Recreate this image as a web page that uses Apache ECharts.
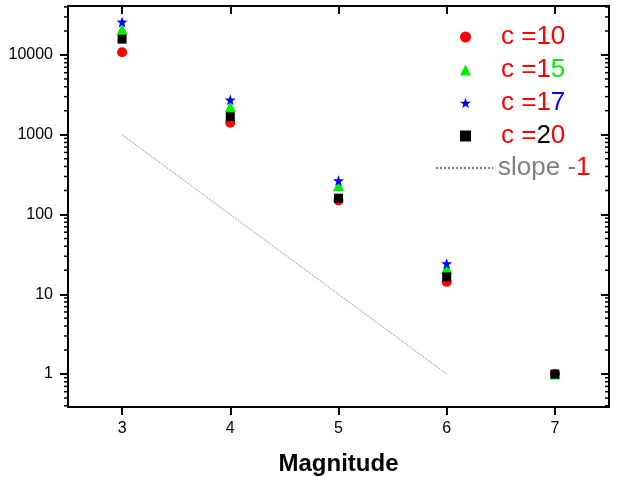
<!DOCTYPE html>
<html>
<head>
<meta charset="utf-8">
<script src="https://cdn.jsdelivr.net/npm/echarts@6/dist/echarts.min.js"></script>
<style>html,body{margin:0;padding:0;background:#fff;}#main{width:627px;height:477px;}</style>
</head>
<body>
<div id="main"></div>
<script>
var magnitudes = [3, 4, 5, 6, 7];
var c10 = [10800, 1410, 150, 14.3, 1];
var c15 = [21000, 2240, 230, 21, 1];
var c17 = [25900, 2740, 266, 24.2, 1];
var c20 = [15800, 1680, 160, 16.5, 1];
var slopeX = [3, 6];
var slopeY = [1000, 1];
var seriesNames = ['c =10', 'c =15', 'c =17', 'c =20'];
var slopeName = 'slope -1';
var minorTickValues = [0.4,0.5,0.6,0.7,0.8,0.9,2,3,4,5,6,7,8,9,20,30,40,50,60,70,80,90,200,300,400,500,600,700,800,900,2000,3000,4000,5000,6000,7000,8000,9000,20000,30000,40000];

function pairs(xs, ys) { return xs.map(function (x, i) { return [x, ys[i]]; }); }

var FONT = '"Liberation Sans", Arial, sans-serif';
var richStyles = {
  sp: { width: 25 },
  r: { color: '#ff0000', fontSize: 26, fontFamily: FONT, lineHeight: 26 },
  g: { color: '#00ee00', fontSize: 26, fontFamily: FONT, lineHeight: 26 },
  b: { color: '#0000ff', fontSize: 26, fontFamily: FONT, lineHeight: 26 },
  k: { color: '#000000', fontSize: 26, fontFamily: FONT, lineHeight: 26 },
  gr: { color: '#808080', fontSize: 26, fontFamily: FONT, lineHeight: 26 }
};
var legendLabels = {
  'c =10': '{sp|}{r|c =10}',
  'c =15': '{sp|}{r|c =1}{g|5}',
  'c =17': '{sp|}{r|c =1}{b|7}',
  'c =20': '{sp|}{r|c =}{k|2}{r|0}',
  'slope -1': '{gr|slope -}{r|1}'
};

var axisLineStyle = { show: true, onZero: false, lineStyle: { color: '#000', width: 2 } };
var xMin = 2.5, xMax = 7.5, yMin = 0.386, yMax = 41100;

var chart = echarts.init(document.getElementById('main'), null, { renderer: 'canvas' });
chart.setOption({
  backgroundColor: '#fff',
  animation: false,
  grid: { left: 68, right: 18, top: 6, bottom: 70, containLabel: false, outerBoundsMode: 'none' },
  xAxis: [
    {
      type: 'value', position: 'bottom', min: xMin, max: xMax,
      name: 'Magnitude', nameLocation: 'middle', nameGap: 45,
      nameTextStyle: { fontFamily: FONT, fontWeight: 'bold', fontSize: 24, color: '#000' },
      axisLine: axisLineStyle,
      axisTick: { show: true, inside: false, length: 8, lineStyle: { color: '#000', width: 2 } },
      axisLabel: { show: true, showMinLabel: false, showMaxLabel: false, margin: 14, fontSize: 16, fontFamily: FONT, color: '#000' },
      splitLine: { show: false }
    },
    {
      type: 'value', position: 'top', min: xMin, max: xMax,
      axisLine: axisLineStyle,
      axisTick: { show: true, inside: true, length: 8, lineStyle: { color: '#000', width: 2 } },
      axisLabel: { show: false },
      splitLine: { show: false }
    }
  ],
  yAxis: [
    {
      type: 'log', logBase: 10, position: 'left', min: yMin, max: yMax,
      axisLine: axisLineStyle,
      axisTick: { show: true, inside: false, length: 8, lineStyle: { color: '#000', width: 2 } },
      axisLabel: { show: true, showMinLabel: false, showMaxLabel: false, margin: 15, fontSize: 16, fontFamily: FONT, color: '#000',
        formatter: function (v) { return String(Math.round(v)); } },
      splitLine: { show: false }
    },
    {
      type: 'log', logBase: 10, position: 'right', min: yMin, max: yMax,
      axisLine: axisLineStyle,
      axisTick: { show: true, inside: true, length: 8, lineStyle: { color: '#000', width: 2 } },
      axisLabel: { show: false },
      splitLine: { show: false }
    }
  ],
  legend: [
    {
      data: [
        { name: seriesNames[0], icon: 'circle' },
        { name: seriesNames[1] },
        { name: seriesNames[2] },
        { name: seriesNames[3] }
      ],
      orient: 'vertical', left: 455, top: 19,
      itemWidth: 11, itemHeight: 11, itemGap: 7,
      formatter: function (n) { return legendLabels[n]; },
      textStyle: { rich: richStyles, fontSize: 26, fontFamily: FONT },
      selectedMode: false
    },
    {
      data: [slopeName], orient: 'vertical', left: 430, top: 150,
      itemWidth: 57, itemHeight: 2,
      formatter: function (n) { return legendLabels[n]; },
      textStyle: { rich: richStyles, fontSize: 26, fontFamily: FONT },
      selectedMode: false
    }
  ],
  series: [
    {
      name: 'minor', type: 'custom', xAxisIndex: 0, yAxisIndex: 0, clip: false, silent: true,
      data: minorTickValues.map(function (v) { return [3, v]; }),
      renderItem: function (params, api) {
        var cs = params.coordSys;
        var p = api.coord([3, api.value(1)]);
        var st = { stroke: '#000', lineWidth: 1.5 };
        return { type: 'group', children: [
          { type: 'line', shape: { x1: cs.x - 4, y1: p[1], x2: cs.x, y2: p[1] }, style: st },
          { type: 'line', shape: { x1: cs.x + cs.width - 4, y1: p[1], x2: cs.x + cs.width, y2: p[1] }, style: st }
        ] };
      }
    },
    {
      name: slopeName, type: 'line', data: pairs(slopeX, slopeY), symbol: 'none',
      lineStyle: { color: '#808080', width: 1, type: 'dotted' }, itemStyle: { color: '#808080' }
    },
    { name: seriesNames[0], type: 'scatter', data: pairs(magnitudes, c10), symbol: 'circle', symbolSize: 10, itemStyle: { color: '#ff0000', opacity: 1 } },
    { name: seriesNames[1], type: 'scatter', data: pairs(magnitudes, c15), symbol: 'triangle', symbolSize: 11, itemStyle: { color: '#00ee00', opacity: 1 } },
    { name: seriesNames[2], type: 'scatter', data: pairs(magnitudes, c17),
      symbol: 'path://M0,-10 L2.35,-3.24 L9.51,-3.09 L3.8,1.24 L5.88,8.09 L0,4 L-5.88,8.09 L-3.8,1.24 L-9.51,-3.09 L-2.35,-3.24 Z',
      symbolSize: 11, itemStyle: { color: '#0000ff', opacity: 1 } },
    { name: seriesNames[3], type: 'scatter', data: pairs(magnitudes, c20), symbol: 'rect', symbolSize: 9, itemStyle: { color: '#000000', opacity: 1 } }
  ]
});
</script>
</body>
</html>
